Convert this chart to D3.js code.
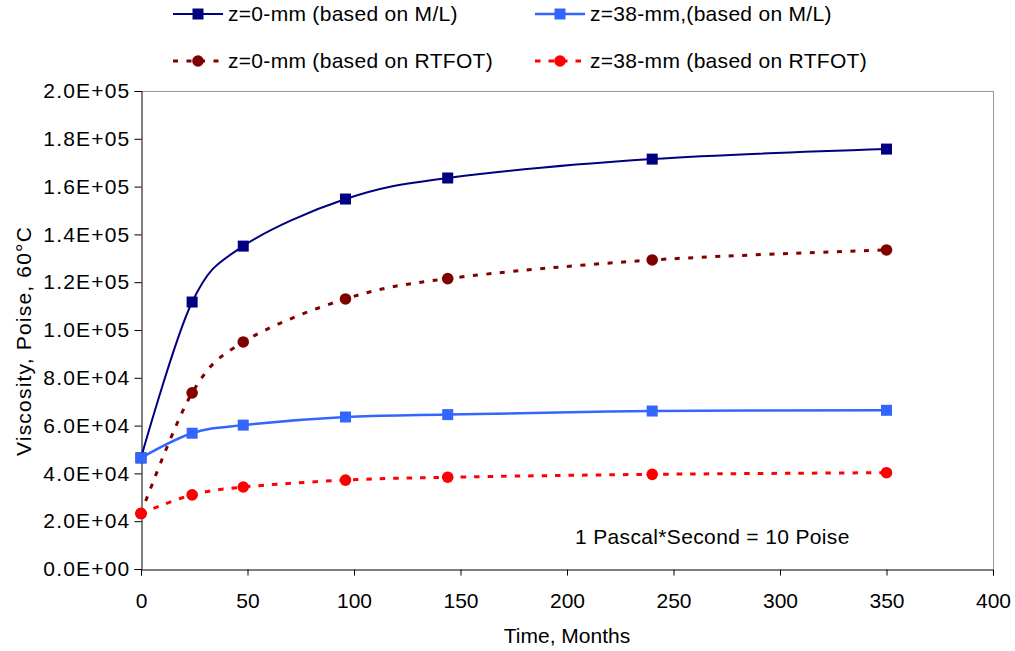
<!DOCTYPE html>
<html>
<head>
<meta charset="utf-8">
<script src="https://cdn.jsdelivr.net/npm/d3@7/dist/d3.min.js"></script>
<style>
  html, body { margin: 0; padding: 0; background: #fff; }
  svg { display: block; font-family: "Liberation Sans", Arial, sans-serif; }
</style>
</head>
<body>
<svg id="chart" width="1015" height="651"></svg>
<script>
// ---- data ----
const months = [0, 24, 48, 96, 144, 240, 350];
const ml0   = [46500, 111700, 135100, 154800, 163600, 171500, 175700];
const ml38  = [46500, 56800, 60200, 63600, 64600, 66100, 66400];
const rt0   = [23200, 73700, 95000, 113000, 121500, 129300, 133500];
const rt38  = [23300, 31000, 34300, 37200, 38400, 39600, 40300];
const seriesNames = ["z=0-mm (based on M/L)", "z=38-mm,(based on M/L)", "z=0-mm (based on RTFOT)", "z=38-mm (based on RTFOT)"];
const xTicks = [0, 50, 100, 150, 200, 250, 300, 350, 400];
const yTicks = [0, 20000, 40000, 60000, 80000, 100000, 120000, 140000, 160000, 180000, 200000];
const xTitle = "Time, Months";
const yTitle = "Viscosity, Poise, 60°C";
const note = "1 Pascal*Second = 10 Poise";

// ---- styles ----
const styles = [
  {color: "#000080", marker: "square", dash: null, width: 2},
  {color: "#3366FF", marker: "square", dash: null, width: 2.5},
  {color: "#800000", marker: "circle", dash: "5,8.5", width: 3},
  {color: "#FF0000", marker: "circle", dash: "5.5,8", width: 3}
];
const seriesData = [ml0, ml38, rt0, rt38];

const svg = d3.select("#chart");
const L = 141, R = 993, T = 91, B = 569;
const x = d3.scaleLinear().domain([0, 400]).range([L, R]);
const y = d3.scaleLinear().domain([0, 200000]).range([B, T]);
const FS = 21;
const FF = "Liberation Sans, Arial, sans-serif";

function fmtE(v) {
  if (v === 0) return "0.0E+00";
  const e = Math.floor(Math.log10(v) + 1e-9);
  const m = v / Math.pow(10, e);
  return m.toFixed(1) + "E+" + String(e).padStart(2, "0");
}

// plot border (top/right gray)
svg.append("line").attr("x1", L).attr("x2", R).attr("y1", T + 0.5).attr("y2", T + 0.5).attr("stroke", "#9a9a9a").attr("stroke-width", 1);
svg.append("line").attr("x1", R + 0.5).attr("x2", R + 0.5).attr("y1", T).attr("y2", B).attr("stroke", "#9a9a9a").attr("stroke-width", 1);

// axes
const yAxis = d3.axisLeft(y).tickValues(yTicks).tickFormat(fmtE).tickSize(7).tickPadding(4);
const gy = svg.append("g").attr("transform", `translate(${L + 0.5},0)`).call(yAxis);
gy.select(".domain").attr("stroke", "#000");
gy.selectAll(".tick line").attr("stroke", "#000");
gy.selectAll(".tick text").attr("font-size", FS).attr("fill", "#000")
  .attr("font-family", FF).attr("letter-spacing", 1.2);

const xAxis = d3.axisBottom(x).tickValues(xTicks).tickFormat(d3.format("d")).tickSize(6).tickPadding(18);
const gx = svg.append("g").attr("transform", `translate(0,${B + 0.5})`).call(xAxis);
gx.select(".domain").attr("stroke", "#000");
gx.selectAll(".tick line").attr("stroke", "#000");
gx.selectAll(".tick text").attr("font-size", FS).attr("fill", "#000")
  .attr("font-family", FF);

// titles
svg.append("text").attr("x", (L + R) / 2).attr("y", 643).attr("text-anchor", "middle")
  .attr("font-size", FS).attr("fill", "#000").text(xTitle);
svg.append("text").attr("transform", "translate(31,341) rotate(-90)").attr("text-anchor", "middle")
  .attr("font-size", FS).attr("letter-spacing", 1.2).attr("fill", "#000").text(yTitle);
svg.append("text").attr("x", 575).attr("y", 544).attr("font-size", FS).attr("letter-spacing", 0.35)
  .attr("fill", "#000").text(note);

// series
const line = d3.line().x(d => x(d[0])).y(d => y(d[1])).curve(d3.curveCardinal.tension(0));

function drawMarker(g, cx, cy, st) {
  if (st.marker === "square") {
    g.append("rect").attr("x", cx - 5.5).attr("y", cy - 5.5).attr("width", 11).attr("height", 11).attr("fill", st.color);
  } else {
    g.append("circle").attr("cx", cx).attr("cy", cy).attr("r", 5.8).attr("fill", st.color);
  }
}

seriesData.forEach((vals, i) => {
  const st = styles[i];
  const pts = months.map((m, j) => [m, vals[j]]);
  const g = svg.append("g");
  g.append("path").attr("d", line(pts)).attr("fill", "none").attr("stroke", st.color)
    .attr("stroke-width", st.width).attr("stroke-dasharray", st.dash);
  pts.forEach(p => drawMarker(g, x(p[0]), y(p[1]), st));
});

// legend
const legPos = [[173, 14], [535, 14], [173, 61], [535, 61]];
seriesNames.forEach((name, i) => {
  const st = styles[i];
  const [lx, ly] = legPos[i];
  const g = svg.append("g");
  g.append("line").attr("x1", lx).attr("x2", lx + 50).attr("y1", ly).attr("y2", ly)
    .attr("stroke", st.color).attr("stroke-width", st.width).attr("stroke-dasharray", st.dash);
  drawMarker(g, lx + 25, ly, st);
  g.append("text").attr("x", lx + 55).attr("y", ly).attr("dy", "0.35em").attr("font-size", FS)
    .attr("letter-spacing", 0.3).attr("fill", "#000").text(name);
});
</script>
</body>
</html>
